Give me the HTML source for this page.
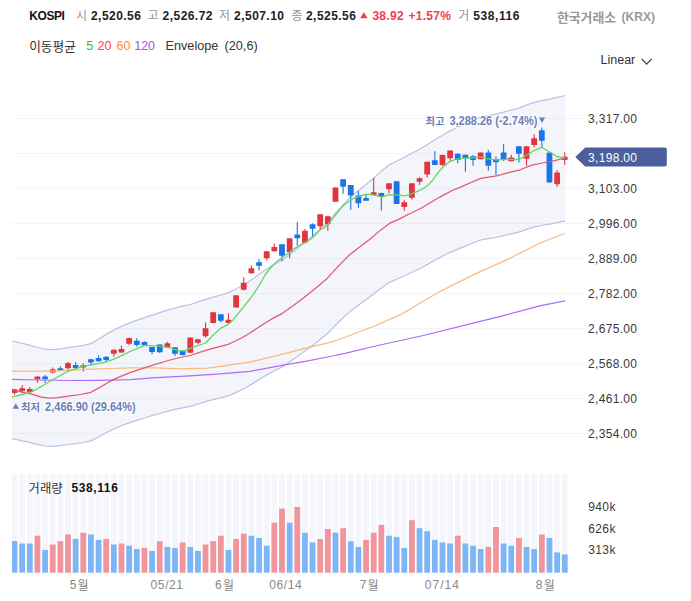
<!DOCTYPE html>
<html lang="ko"><head><meta charset="utf-8"><title>KOSPI</title>
<style>
html,body{margin:0;padding:0;background:#fff;}
body{width:691px;height:601px;position:relative;overflow:hidden;font-family:"Liberation Sans",sans-serif;}
span{position:absolute;white-space:nowrap;display:block;}
svg text{font-family:"Liberation Sans","Noto Sans CJK KR",sans-serif;}
</style></head><body>
<svg width="691" height="601" viewBox="0 0 691 601" style="position:absolute;left:0;top:0">
<defs><clipPath id="cp"><rect x="12" y="90" width="556" height="370"/></clipPath></defs>
<line x1="12" x2="584" y1="118.5" y2="118.5" stroke="#f3f4f8" stroke-width="1"/>
<line x1="12" x2="584" y1="153.5" y2="153.5" stroke="#f3f4f8" stroke-width="1"/>
<line x1="12" x2="584" y1="188.5" y2="188.5" stroke="#f3f4f8" stroke-width="1"/>
<line x1="12" x2="584" y1="223.5" y2="223.5" stroke="#f3f4f8" stroke-width="1"/>
<line x1="12" x2="584" y1="258.5" y2="258.5" stroke="#f3f4f8" stroke-width="1"/>
<line x1="12" x2="584" y1="293.5" y2="293.5" stroke="#f3f4f8" stroke-width="1"/>
<line x1="12" x2="584" y1="328.5" y2="328.5" stroke="#f3f4f8" stroke-width="1"/>
<line x1="12" x2="584" y1="363.5" y2="363.5" stroke="#f3f4f8" stroke-width="1"/>
<line x1="12" x2="584" y1="398.5" y2="398.5" stroke="#f3f4f8" stroke-width="1"/>
<line x1="12" x2="584" y1="433.5" y2="433.5" stroke="#f3f4f8" stroke-width="1"/>
<polygon points="12.0,340.9 14.5,341.5 22.1,343.4 29.8,345.1 37.4,347.5 45.1,349.2 52.7,349.6 60.4,348.8 68.0,347.6 75.6,346.6 83.3,345.3 90.9,343.6 98.6,339.2 106.2,334.4 113.8,330.1 121.5,326.4 129.1,323.1 136.8,320.4 144.4,317.7 152.1,315.2 159.7,312.6 167.3,310.2 175.0,308.0 182.6,306.2 190.3,304.5 197.9,301.9 205.6,299.3 213.2,297.1 220.8,295.0 228.5,292.6 236.1,288.8 243.8,284.8 251.4,279.9 259.1,274.3 266.7,269.1 274.3,264.4 282.0,260.3 289.6,254.4 297.3,248.4 304.9,242.3 312.6,236.0 320.2,229.2 327.8,222.2 335.5,213.1 343.1,204.8 350.8,196.9 358.4,190.6 366.1,184.5 373.7,178.0 381.3,171.1 389.0,165.0 396.6,161.2 404.3,157.3 411.9,153.3 419.6,149.3 427.2,144.8 434.8,139.8 442.5,135.2 450.1,130.9 457.8,127.3 465.4,123.9 473.0,120.4 480.7,116.9 488.3,115.6 496.0,114.2 503.6,112.1 511.3,110.1 518.9,108.1 526.5,105.0 534.2,102.3 541.8,100.6 549.5,99.1 557.1,97.4 565.0,95.5 565.0,220.9 557.1,222.6 549.5,224.1 541.8,225.5 534.2,226.9 526.5,229.4 518.9,232.1 511.3,233.8 503.6,235.7 496.0,237.5 488.3,238.7 480.7,240.0 473.0,243.0 465.4,246.1 457.8,249.2 450.1,252.3 442.5,256.1 434.8,260.3 427.2,264.6 419.6,268.7 411.9,272.2 404.3,275.7 396.6,279.2 389.0,282.6 381.3,287.9 373.7,294.1 366.1,299.8 358.4,305.3 350.8,310.9 343.1,317.8 335.5,325.2 327.8,333.3 320.2,339.5 312.6,345.5 304.9,351.1 297.3,356.6 289.6,361.9 282.0,367.1 274.3,370.7 266.7,374.9 259.1,379.5 251.4,384.4 243.8,388.8 236.1,392.4 228.5,395.7 220.8,397.8 213.2,399.7 205.6,401.7 197.9,404.0 190.3,406.3 182.6,407.8 175.0,409.4 167.3,411.4 159.7,413.5 152.1,415.7 144.4,418.0 136.8,420.4 129.1,422.8 121.5,425.7 113.8,429.0 106.2,432.8 98.6,437.0 90.9,440.9 83.3,442.5 75.6,443.6 68.0,444.5 60.4,445.6 52.7,446.3 45.1,446.0 37.4,444.4 29.8,442.3 22.1,440.8 14.5,439.1 12.0,438.5" fill="#cdd5ea" fill-opacity="0.24"/>
<polyline points="12.0,340.9 14.5,341.5 22.1,343.4 29.8,345.1 37.4,347.5 45.1,349.2 52.7,349.6 60.4,348.8 68.0,347.6 75.6,346.6 83.3,345.3 90.9,343.6 98.6,339.2 106.2,334.4 113.8,330.1 121.5,326.4 129.1,323.1 136.8,320.4 144.4,317.7 152.1,315.2 159.7,312.6 167.3,310.2 175.0,308.0 182.6,306.2 190.3,304.5 197.9,301.9 205.6,299.3 213.2,297.1 220.8,295.0 228.5,292.6 236.1,288.8 243.8,284.8 251.4,279.9 259.1,274.3 266.7,269.1 274.3,264.4 282.0,260.3 289.6,254.4 297.3,248.4 304.9,242.3 312.6,236.0 320.2,229.2 327.8,222.2 335.5,213.1 343.1,204.8 350.8,196.9 358.4,190.6 366.1,184.5 373.7,178.0 381.3,171.1 389.0,165.0 396.6,161.2 404.3,157.3 411.9,153.3 419.6,149.3 427.2,144.8 434.8,139.8 442.5,135.2 450.1,130.9 457.8,127.3 465.4,123.9 473.0,120.4 480.7,116.9 488.3,115.6 496.0,114.2 503.6,112.1 511.3,110.1 518.9,108.1 526.5,105.0 534.2,102.3 541.8,100.6 549.5,99.1 557.1,97.4 565.0,95.5" fill="none" stroke="#bcc1e7" stroke-width="1.25" stroke-linejoin="round"/>
<polyline points="12.0,438.5 14.5,439.1 22.1,440.8 29.8,442.3 37.4,444.4 45.1,446.0 52.7,446.3 60.4,445.6 68.0,444.5 75.6,443.6 83.3,442.5 90.9,440.9 98.6,437.0 106.2,432.8 113.8,429.0 121.5,425.7 129.1,422.8 136.8,420.4 144.4,418.0 152.1,415.7 159.7,413.5 167.3,411.4 175.0,409.4 182.6,407.8 190.3,406.3 197.9,404.0 205.6,401.7 213.2,399.7 220.8,397.8 228.5,395.7 236.1,392.4 243.8,388.8 251.4,384.4 259.1,379.5 266.7,374.9 274.3,370.7 282.0,367.1 289.6,361.9 297.3,356.6 304.9,351.1 312.6,345.5 320.2,339.5 327.8,333.3 335.5,325.2 343.1,317.8 350.8,310.9 358.4,305.3 366.1,299.8 373.7,294.1 381.3,287.9 389.0,282.6 396.6,279.2 404.3,275.7 411.9,272.2 419.6,268.7 427.2,264.6 434.8,260.3 442.5,256.1 450.1,252.3 457.8,249.2 465.4,246.1 473.0,243.0 480.7,240.0 488.3,238.7 496.0,237.5 503.6,235.7 511.3,233.8 518.9,232.1 526.5,229.4 534.2,226.9 541.8,225.5 549.5,224.1 557.1,222.6 565.0,220.9" fill="none" stroke="#bcc1e7" stroke-width="1.25" stroke-linejoin="round"/>
<g clip-path="url(#cp)">
<rect x="13.95" y="389.2" width="1.1" height="5.6" fill="#e2353f"/>
<rect x="11.60" y="389.2" width="5.8" height="3.9" rx="0.4" fill="#e2353f"/>
<rect x="21.59" y="385.2" width="1.1" height="7.3" fill="#e2353f"/>
<rect x="19.24" y="388.2" width="5.8" height="3.1" rx="0.4" fill="#e2353f"/>
<rect x="29.23" y="387.0" width="1.1" height="5.8" fill="#e2353f"/>
<rect x="26.88" y="389.0" width="5.8" height="3.0" rx="0.4" fill="#e2353f"/>
<rect x="36.88" y="376.5" width="1.1" height="6.3" fill="#e2353f"/>
<rect x="34.53" y="376.5" width="5.8" height="2.7" rx="0.4" fill="#e2353f"/>
<rect x="44.52" y="375.0" width="1.1" height="7.8" fill="#1b74e8"/>
<rect x="42.17" y="376.5" width="5.8" height="2.5" rx="0.4" fill="#1b74e8"/>
<rect x="52.16" y="367.5" width="1.1" height="5.8" fill="#e2353f"/>
<rect x="49.81" y="369.2" width="5.8" height="3.3" rx="0.4" fill="#e2353f"/>
<rect x="59.80" y="366.2" width="1.1" height="5.1" fill="#1b74e8"/>
<rect x="57.45" y="368.3" width="5.8" height="2.5" rx="0.4" fill="#1b74e8"/>
<rect x="67.45" y="362.0" width="1.1" height="8.8" fill="#e2353f"/>
<rect x="65.10" y="363.0" width="5.8" height="5.3" rx="0.4" fill="#e2353f"/>
<rect x="75.09" y="362.0" width="1.1" height="7.7" fill="#1b74e8"/>
<rect x="72.74" y="365.0" width="5.8" height="3.0" rx="0.4" fill="#1b74e8"/>
<rect x="82.73" y="363.3" width="1.1" height="8.4" fill="#e2353f"/>
<rect x="80.38" y="365.3" width="5.8" height="2.2" rx="0.4" fill="#e2353f"/>
<rect x="90.37" y="358.7" width="1.1" height="6.6" fill="#1b74e8"/>
<rect x="88.02" y="359.2" width="5.8" height="3.3" rx="0.4" fill="#1b74e8"/>
<rect x="98.02" y="355.3" width="1.1" height="6.4" fill="#1b74e8"/>
<rect x="95.67" y="358.0" width="5.8" height="3.3" rx="0.4" fill="#1b74e8"/>
<rect x="105.66" y="356.3" width="1.1" height="5.4" fill="#1b74e8"/>
<rect x="103.31" y="356.7" width="5.8" height="3.3" rx="0.4" fill="#1b74e8"/>
<rect x="113.30" y="349.2" width="1.1" height="7.5" fill="#e2353f"/>
<rect x="110.95" y="349.7" width="5.8" height="4.0" rx="0.4" fill="#e2353f"/>
<rect x="120.94" y="345.5" width="1.1" height="7.3" fill="#e2353f"/>
<rect x="118.59" y="349.0" width="5.8" height="3.5" rx="0.4" fill="#e2353f"/>
<rect x="128.59" y="337.5" width="1.1" height="7.8" fill="#e2353f"/>
<rect x="126.24" y="338.0" width="5.8" height="5.8" rx="0.4" fill="#e2353f"/>
<rect x="136.23" y="338.3" width="1.1" height="8.4" fill="#1b74e8"/>
<rect x="133.88" y="340.8" width="5.8" height="4.2" rx="0.4" fill="#1b74e8"/>
<rect x="143.87" y="341.3" width="1.1" height="4.5" fill="#1b74e8"/>
<rect x="141.52" y="342.0" width="5.8" height="3.3" rx="0.4" fill="#1b74e8"/>
<rect x="151.51" y="346.7" width="1.1" height="7.5" fill="#1b74e8"/>
<rect x="149.16" y="347.0" width="5.8" height="5.0" rx="0.4" fill="#1b74e8"/>
<rect x="159.16" y="344.5" width="1.1" height="8.3" fill="#1b74e8"/>
<rect x="156.81" y="344.5" width="5.8" height="7.7" rx="0.4" fill="#1b74e8"/>
<rect x="166.80" y="341.7" width="1.1" height="5.8" fill="#e2353f"/>
<rect x="164.45" y="343.3" width="5.8" height="3.7" rx="0.4" fill="#e2353f"/>
<rect x="174.44" y="347.2" width="1.1" height="8.6" fill="#1b74e8"/>
<rect x="172.09" y="347.2" width="5.8" height="6.6" rx="0.4" fill="#1b74e8"/>
<rect x="182.08" y="350.3" width="1.1" height="5.2" fill="#1b74e8"/>
<rect x="179.73" y="350.8" width="5.8" height="4.2" rx="0.4" fill="#1b74e8"/>
<rect x="189.73" y="337.5" width="1.1" height="15.3" fill="#e2353f"/>
<rect x="187.38" y="337.5" width="5.8" height="15.3" rx="0.4" fill="#e2353f"/>
<rect x="197.37" y="338.7" width="1.1" height="5.5" fill="#e2353f"/>
<rect x="195.02" y="339.2" width="5.8" height="3.6" rx="0.4" fill="#e2353f"/>
<rect x="205.01" y="322.5" width="1.1" height="15.0" fill="#e2353f"/>
<rect x="202.66" y="328.3" width="5.8" height="7.9" rx="0.4" fill="#e2353f"/>
<rect x="212.65" y="312.2" width="1.1" height="11.1" fill="#e2353f"/>
<rect x="210.30" y="312.2" width="5.8" height="10.8" rx="0.4" fill="#e2353f"/>
<rect x="220.29" y="314.2" width="1.1" height="8.3" fill="#1b74e8"/>
<rect x="217.94" y="314.2" width="5.8" height="6.6" rx="0.4" fill="#1b74e8"/>
<rect x="227.94" y="313.3" width="1.1" height="10.4" fill="#e2353f"/>
<rect x="225.59" y="319.7" width="5.8" height="3.3" rx="0.4" fill="#e2353f"/>
<rect x="235.58" y="295.3" width="1.1" height="12.2" fill="#e2353f"/>
<rect x="233.23" y="295.3" width="5.8" height="12.2" rx="0.4" fill="#e2353f"/>
<rect x="243.22" y="277.2" width="1.1" height="13.1" fill="#e2353f"/>
<rect x="240.87" y="282.8" width="5.8" height="6.9" rx="0.4" fill="#e2353f"/>
<rect x="250.86" y="265.3" width="1.1" height="8.4" fill="#e2353f"/>
<rect x="248.51" y="268.3" width="5.8" height="5.0" rx="0.4" fill="#e2353f"/>
<rect x="258.51" y="259.2" width="1.1" height="11.3" fill="#1b74e8"/>
<rect x="256.16" y="262.2" width="5.8" height="3.6" rx="0.4" fill="#1b74e8"/>
<rect x="266.15" y="251.3" width="1.1" height="9.2" fill="#e2353f"/>
<rect x="263.80" y="251.3" width="5.8" height="7.0" rx="0.4" fill="#e2353f"/>
<rect x="273.79" y="243.3" width="1.1" height="8.4" fill="#e2353f"/>
<rect x="271.44" y="247.0" width="5.8" height="4.2" rx="0.4" fill="#e2353f"/>
<rect x="281.43" y="244.2" width="1.1" height="17.1" fill="#1b74e8"/>
<rect x="279.08" y="244.2" width="5.8" height="11.6" rx="0.4" fill="#1b74e8"/>
<rect x="289.08" y="238.3" width="1.1" height="20.0" fill="#e2353f"/>
<rect x="286.73" y="238.3" width="5.8" height="13.7" rx="0.4" fill="#e2353f"/>
<rect x="296.72" y="222.0" width="1.1" height="23.5" fill="#1b74e8"/>
<rect x="294.37" y="234.5" width="5.8" height="3.8" rx="0.4" fill="#1b74e8"/>
<rect x="304.36" y="229.2" width="1.1" height="13.6" fill="#e2353f"/>
<rect x="302.01" y="230.8" width="5.8" height="11.9" rx="0.4" fill="#e2353f"/>
<rect x="312.00" y="223.3" width="1.1" height="13.2" fill="#1b74e8"/>
<rect x="309.65" y="224.2" width="5.8" height="4.5" rx="0.4" fill="#1b74e8"/>
<rect x="319.65" y="214.2" width="1.1" height="15.0" fill="#e2353f"/>
<rect x="317.30" y="214.2" width="5.8" height="12.0" rx="0.4" fill="#e2353f"/>
<rect x="327.29" y="215.8" width="1.1" height="15.0" fill="#e2353f"/>
<rect x="324.94" y="216.3" width="5.8" height="7.9" rx="0.4" fill="#e2353f"/>
<rect x="334.93" y="187.5" width="1.1" height="14.2" fill="#e2353f"/>
<rect x="332.58" y="187.5" width="5.8" height="14.2" rx="0.4" fill="#e2353f"/>
<rect x="342.57" y="179.2" width="1.1" height="14.6" fill="#1b74e8"/>
<rect x="340.22" y="179.2" width="5.8" height="7.5" rx="0.4" fill="#1b74e8"/>
<rect x="350.22" y="185.0" width="1.1" height="24.7" fill="#1b74e8"/>
<rect x="347.87" y="185.0" width="5.8" height="10.5" rx="0.4" fill="#1b74e8"/>
<rect x="357.86" y="190.8" width="1.1" height="17.0" fill="#1b74e8"/>
<rect x="355.51" y="195.5" width="5.8" height="7.8" rx="0.4" fill="#1b74e8"/>
<rect x="365.50" y="194.2" width="1.1" height="6.6" fill="#1b74e8"/>
<rect x="363.15" y="198.0" width="5.8" height="2.8" rx="0.4" fill="#1b74e8"/>
<rect x="373.14" y="178.0" width="1.1" height="17.3" fill="#e2353f"/>
<rect x="370.79" y="192.2" width="5.8" height="3.1" rx="0.4" fill="#e2353f"/>
<rect x="380.79" y="192.5" width="1.1" height="18.0" fill="#1b74e8"/>
<rect x="378.44" y="193.0" width="5.8" height="3.2" rx="0.4" fill="#1b74e8"/>
<rect x="388.43" y="183.3" width="1.1" height="10.0" fill="#e2353f"/>
<rect x="386.08" y="183.3" width="5.8" height="5.9" rx="0.4" fill="#e2353f"/>
<rect x="396.07" y="181.2" width="1.1" height="22.8" fill="#1b74e8"/>
<rect x="393.72" y="181.2" width="5.8" height="22.8" rx="0.4" fill="#1b74e8"/>
<rect x="403.71" y="199.7" width="1.1" height="11.1" fill="#e2353f"/>
<rect x="401.36" y="202.2" width="5.8" height="4.8" rx="0.4" fill="#e2353f"/>
<rect x="411.35" y="183.3" width="1.1" height="16.4" fill="#e2353f"/>
<rect x="409.00" y="183.3" width="5.8" height="14.5" rx="0.4" fill="#e2353f"/>
<rect x="419.00" y="177.2" width="1.1" height="7.8" fill="#e2353f"/>
<rect x="416.65" y="178.3" width="5.8" height="3.4" rx="0.4" fill="#e2353f"/>
<rect x="426.64" y="161.7" width="1.1" height="15.8" fill="#e2353f"/>
<rect x="424.29" y="161.7" width="5.8" height="12.8" rx="0.4" fill="#e2353f"/>
<rect x="434.28" y="151.2" width="1.1" height="13.8" fill="#1b74e8"/>
<rect x="431.93" y="160.3" width="5.8" height="4.7" rx="0.4" fill="#1b74e8"/>
<rect x="441.92" y="154.5" width="1.1" height="11.3" fill="#e2353f"/>
<rect x="439.57" y="155.0" width="5.8" height="10.0" rx="0.4" fill="#e2353f"/>
<rect x="449.57" y="150.5" width="1.1" height="10.3" fill="#e2353f"/>
<rect x="447.22" y="150.5" width="5.8" height="7.8" rx="0.4" fill="#e2353f"/>
<rect x="457.21" y="153.3" width="1.1" height="10.0" fill="#1b74e8"/>
<rect x="454.86" y="153.8" width="5.8" height="6.2" rx="0.4" fill="#1b74e8"/>
<rect x="464.85" y="154.7" width="1.1" height="17.0" fill="#1b74e8"/>
<rect x="462.50" y="154.7" width="5.8" height="3.6" rx="0.4" fill="#1b74e8"/>
<rect x="472.49" y="155.0" width="1.1" height="10.8" fill="#1b74e8"/>
<rect x="470.14" y="156.2" width="5.8" height="3.8" rx="0.4" fill="#1b74e8"/>
<rect x="480.14" y="152.5" width="1.1" height="6.8" fill="#e2353f"/>
<rect x="477.79" y="152.5" width="5.8" height="6.8" rx="0.4" fill="#e2353f"/>
<rect x="487.78" y="149.8" width="1.1" height="20.8" fill="#1b74e8"/>
<rect x="485.43" y="152.4" width="5.8" height="13.4" rx="0.4" fill="#1b74e8"/>
<rect x="495.42" y="156.3" width="1.1" height="18.7" fill="#1b74e8"/>
<rect x="493.07" y="159.3" width="5.8" height="2.9" rx="0.4" fill="#1b74e8"/>
<rect x="503.06" y="144.2" width="1.1" height="16.8" fill="#1b74e8"/>
<rect x="500.71" y="152.5" width="5.8" height="6.7" rx="0.4" fill="#1b74e8"/>
<rect x="510.71" y="154.7" width="1.1" height="6.6" fill="#e2353f"/>
<rect x="508.36" y="157.5" width="5.8" height="3.8" rx="0.4" fill="#e2353f"/>
<rect x="518.35" y="146.3" width="1.1" height="16.2" fill="#1b74e8"/>
<rect x="516.00" y="146.3" width="5.8" height="7.4" rx="0.4" fill="#1b74e8"/>
<rect x="525.99" y="146.3" width="1.1" height="19.5" fill="#e2353f"/>
<rect x="523.64" y="146.3" width="5.8" height="12.5" rx="0.4" fill="#e2353f"/>
<rect x="533.63" y="134.2" width="1.1" height="13.3" fill="#e2353f"/>
<rect x="531.28" y="138.3" width="5.8" height="6.7" rx="0.4" fill="#e2353f"/>
<rect x="541.28" y="127.5" width="1.1" height="20.0" fill="#1b74e8"/>
<rect x="538.93" y="130.3" width="5.8" height="10.5" rx="0.4" fill="#1b74e8"/>
<rect x="548.92" y="152.5" width="1.1" height="30.0" fill="#1b74e8"/>
<rect x="546.57" y="152.5" width="5.8" height="30.0" rx="0.4" fill="#1b74e8"/>
<rect x="556.56" y="170.3" width="1.1" height="16.7" fill="#e2353f"/>
<rect x="554.21" y="172.5" width="5.8" height="11.7" rx="0.4" fill="#e2353f"/>
<rect x="564.20" y="152.2" width="1.1" height="12.8" fill="#e2353f"/>
<rect x="561.85" y="156.7" width="5.8" height="3.3" rx="0.4" fill="#e2353f"/>
</g>
<polyline points="12.0,379.3 40.0,380.0 70.0,380.5 100.0,380.4 130.0,379.7 156.0,377.7 190.0,375.8 219.9,373.9 250.0,371.3 284.7,364.9 307.9,360.9 330.0,356.5 345.0,353.3 373.3,346.5 423.2,335.5 473.2,323.2 506.5,314.9 539.7,305.9 565.0,300.9" fill="none" stroke="#ad6cf4" stroke-width="1.2" stroke-linejoin="round"/>
<polyline points="12.0,371.1 45.0,371.2 70.0,370.4 85.0,369.4 110.0,368.5 130.0,367.8 156.0,367.8 182.0,368.8 190.0,368.7 207.4,368.2 229.0,365.1 250.0,362.2 278.9,355.1 307.9,347.6 330.0,342.4 340.0,339.2 350.0,335.3 373.3,326.5 399.9,314.9 439.9,291.5 473.2,274.9 506.5,259.9 539.7,243.3 565.0,233.3" fill="none" stroke="#fab97a" stroke-width="1.2" stroke-linejoin="round"/>
<polyline points="12.0,389.7 23.0,392.3 31.7,394.1 40.4,396.9 49.1,398.2 57.7,397.6 70.0,395.8 80.4,394.5 90.8,392.3 100.4,387.1 109.1,381.9 117.7,377.6 130.0,372.6 147.4,366.9 164.7,361.5 177.7,358.0 190.0,355.5 207.4,349.9 227.3,344.7 242.1,337.8 250.0,333.1 261.3,325.4 271.7,318.9 282.1,313.6 293.4,305.4 302.1,298.9 310.0,292.8 313.5,290.0 327.4,278.2 336.0,268.6 349.1,255.2 358.6,247.8 370.2,239.0 380.8,229.9 389.5,223.4 399.1,219.1 408.6,214.3 420.0,208.8 422.4,207.6 439.7,197.1 452.7,190.2 460.0,187.4 470.4,182.8 480.8,178.4 496.5,175.8 507.7,172.8 520.2,169.8 531.7,165.1 544.7,162.5 553.4,160.8 565.0,158.2" fill="none" stroke="#e3566c" stroke-width="1.2" stroke-linejoin="round"/>
<polyline points="12.0,397.1 22.0,394.5 31.7,391.9 44.7,384.5 53.4,379.3 62.1,374.5 69.5,370.6 83.0,366.3 95.0,364.2 104.7,362.4 113.4,359.3 122.0,355.4 130.0,351.5 144.8,345.4 156.0,345.9 169.0,347.6 178.6,350.6 183.8,351.1 190.0,348.3 205.6,343.0 213.4,334.8 221.3,327.8 228.2,324.3 232.7,320.3 241.3,309.6 251.5,297.0 258.6,286.3 265.7,274.0 271.7,266.5 275.1,263.1 282.2,257.6 290.3,251.5 298.4,245.9 305.5,242.4 312.6,237.8 319.7,230.2 325.5,226.8 330.0,222.1 335.0,215.6 340.2,209.0 345.3,203.9 350.3,200.2 355.4,197.6 360.5,195.8 365.5,194.3 370.6,194.3 375.7,195.3 381.7,197.2 387.8,195.0 395.0,194.8 398.3,194.9 405.0,195.8 413.7,193.2 420.0,190.2 427.1,186.1 433.2,179.5 438.2,172.4 443.3,166.8 449.4,161.8 455.5,159.3 462.6,158.2 470.7,158.2 476.7,157.2 481.8,157.2 486.9,158.7 496.5,159.9 508.6,159.3 518.7,159.5 527.4,154.7 534.3,150.4 541.7,147.3 549.1,151.7 556.9,156.5 565.0,158.2" fill="none" stroke="#62d662" stroke-width="1.3" stroke-linejoin="round"/>
<rect x="12.00" y="474" width="5.40" height="98.7" fill="#f5f6fb"/>
<rect x="12.00" y="541.0" width="5.40" height="31.7" fill="#7db5f6"/>
<rect x="19.24" y="474" width="5.80" height="98.7" fill="#f5f6fb"/>
<rect x="19.24" y="543.5" width="5.80" height="29.2" fill="#7db5f6"/>
<rect x="26.88" y="474" width="5.80" height="98.7" fill="#f5f6fb"/>
<rect x="26.88" y="543.5" width="5.80" height="29.2" fill="#7db5f6"/>
<rect x="34.53" y="474" width="5.80" height="98.7" fill="#f5f6fb"/>
<rect x="34.53" y="535.7" width="5.80" height="37.0" fill="#f0959c"/>
<rect x="42.17" y="474" width="5.80" height="98.7" fill="#f5f6fb"/>
<rect x="42.17" y="549.9" width="5.80" height="22.8" fill="#7db5f6"/>
<rect x="49.81" y="474" width="5.80" height="98.7" fill="#f5f6fb"/>
<rect x="49.81" y="544.5" width="5.80" height="28.2" fill="#f0959c"/>
<rect x="57.45" y="474" width="5.80" height="98.7" fill="#f5f6fb"/>
<rect x="57.45" y="541.2" width="5.80" height="31.5" fill="#f0959c"/>
<rect x="65.10" y="474" width="5.80" height="98.7" fill="#f5f6fb"/>
<rect x="65.10" y="534.5" width="5.80" height="38.2" fill="#f0959c"/>
<rect x="72.74" y="474" width="5.80" height="98.7" fill="#f5f6fb"/>
<rect x="72.74" y="538.9" width="5.80" height="33.8" fill="#7db5f6"/>
<rect x="80.38" y="474" width="5.80" height="98.7" fill="#f5f6fb"/>
<rect x="80.38" y="532.7" width="5.80" height="40.0" fill="#f0959c"/>
<rect x="88.02" y="474" width="5.80" height="98.7" fill="#f5f6fb"/>
<rect x="88.02" y="534.5" width="5.80" height="38.2" fill="#7db5f6"/>
<rect x="95.67" y="474" width="5.80" height="98.7" fill="#f5f6fb"/>
<rect x="95.67" y="539.9" width="5.80" height="32.8" fill="#7db5f6"/>
<rect x="103.31" y="474" width="5.80" height="98.7" fill="#f5f6fb"/>
<rect x="103.31" y="538.9" width="5.80" height="33.8" fill="#f0959c"/>
<rect x="110.95" y="474" width="5.80" height="98.7" fill="#f5f6fb"/>
<rect x="110.95" y="544.5" width="5.80" height="28.2" fill="#7db5f6"/>
<rect x="118.59" y="474" width="5.80" height="98.7" fill="#f5f6fb"/>
<rect x="118.59" y="543.5" width="5.80" height="29.2" fill="#f0959c"/>
<rect x="126.24" y="474" width="5.80" height="98.7" fill="#f5f6fb"/>
<rect x="126.24" y="545.7" width="5.80" height="27.0" fill="#7db5f6"/>
<rect x="133.88" y="474" width="5.80" height="98.7" fill="#f5f6fb"/>
<rect x="133.88" y="549.0" width="5.80" height="23.7" fill="#7db5f6"/>
<rect x="141.52" y="474" width="5.80" height="98.7" fill="#f5f6fb"/>
<rect x="141.52" y="547.9" width="5.80" height="24.8" fill="#f0959c"/>
<rect x="149.16" y="474" width="5.80" height="98.7" fill="#f5f6fb"/>
<rect x="149.16" y="551.0" width="5.80" height="21.7" fill="#7db5f6"/>
<rect x="156.81" y="474" width="5.80" height="98.7" fill="#f5f6fb"/>
<rect x="156.81" y="541.2" width="5.80" height="31.5" fill="#f0959c"/>
<rect x="164.45" y="474" width="5.80" height="98.7" fill="#f5f6fb"/>
<rect x="164.45" y="546.9" width="5.80" height="25.8" fill="#7db5f6"/>
<rect x="172.09" y="474" width="5.80" height="98.7" fill="#f5f6fb"/>
<rect x="172.09" y="547.9" width="5.80" height="24.8" fill="#7db5f6"/>
<rect x="179.73" y="474" width="5.80" height="98.7" fill="#f5f6fb"/>
<rect x="179.73" y="542.4" width="5.80" height="30.3" fill="#f0959c"/>
<rect x="187.38" y="474" width="5.80" height="98.7" fill="#f5f6fb"/>
<rect x="187.38" y="546.9" width="5.80" height="25.8" fill="#7db5f6"/>
<rect x="195.02" y="474" width="5.80" height="98.7" fill="#f5f6fb"/>
<rect x="195.02" y="551.0" width="5.80" height="21.7" fill="#7db5f6"/>
<rect x="202.66" y="474" width="5.80" height="98.7" fill="#f5f6fb"/>
<rect x="202.66" y="544.5" width="5.80" height="28.2" fill="#f0959c"/>
<rect x="210.30" y="474" width="5.80" height="98.7" fill="#f5f6fb"/>
<rect x="210.30" y="541.2" width="5.80" height="31.5" fill="#f0959c"/>
<rect x="217.94" y="474" width="5.80" height="98.7" fill="#f5f6fb"/>
<rect x="217.94" y="535.7" width="5.80" height="37.0" fill="#f0959c"/>
<rect x="225.59" y="474" width="5.80" height="98.7" fill="#f5f6fb"/>
<rect x="225.59" y="549.9" width="5.80" height="22.8" fill="#7db5f6"/>
<rect x="233.23" y="474" width="5.80" height="98.7" fill="#f5f6fb"/>
<rect x="233.23" y="539.0" width="5.80" height="33.7" fill="#f0959c"/>
<rect x="240.87" y="474" width="5.80" height="98.7" fill="#f5f6fb"/>
<rect x="240.87" y="533.7" width="5.80" height="39.0" fill="#f0959c"/>
<rect x="248.51" y="474" width="5.80" height="98.7" fill="#f5f6fb"/>
<rect x="248.51" y="535.7" width="5.80" height="37.0" fill="#7db5f6"/>
<rect x="256.16" y="474" width="5.80" height="98.7" fill="#f5f6fb"/>
<rect x="256.16" y="537.9" width="5.80" height="34.8" fill="#7db5f6"/>
<rect x="263.80" y="474" width="5.80" height="98.7" fill="#f5f6fb"/>
<rect x="263.80" y="545.7" width="5.80" height="27.0" fill="#7db5f6"/>
<rect x="271.44" y="474" width="5.80" height="98.7" fill="#f5f6fb"/>
<rect x="271.44" y="522.7" width="5.80" height="50.0" fill="#f0959c"/>
<rect x="279.08" y="474" width="5.80" height="98.7" fill="#f5f6fb"/>
<rect x="279.08" y="508.5" width="5.80" height="64.2" fill="#f0959c"/>
<rect x="286.73" y="474" width="5.80" height="98.7" fill="#f5f6fb"/>
<rect x="286.73" y="522.7" width="5.80" height="50.0" fill="#7db5f6"/>
<rect x="294.37" y="474" width="5.80" height="98.7" fill="#f5f6fb"/>
<rect x="294.37" y="507.0" width="5.80" height="65.7" fill="#f0959c"/>
<rect x="302.01" y="474" width="5.80" height="98.7" fill="#f5f6fb"/>
<rect x="302.01" y="532.7" width="5.80" height="40.0" fill="#7db5f6"/>
<rect x="309.65" y="474" width="5.80" height="98.7" fill="#f5f6fb"/>
<rect x="309.65" y="542.4" width="5.80" height="30.3" fill="#7db5f6"/>
<rect x="317.30" y="474" width="5.80" height="98.7" fill="#f5f6fb"/>
<rect x="317.30" y="539.0" width="5.80" height="33.7" fill="#f0959c"/>
<rect x="324.94" y="474" width="5.80" height="98.7" fill="#f5f6fb"/>
<rect x="324.94" y="529.0" width="5.80" height="43.7" fill="#f0959c"/>
<rect x="332.58" y="474" width="5.80" height="98.7" fill="#f5f6fb"/>
<rect x="332.58" y="532.7" width="5.80" height="40.0" fill="#7db5f6"/>
<rect x="340.22" y="474" width="5.80" height="98.7" fill="#f5f6fb"/>
<rect x="340.22" y="528.2" width="5.80" height="44.5" fill="#f0959c"/>
<rect x="347.87" y="474" width="5.80" height="98.7" fill="#f5f6fb"/>
<rect x="347.87" y="541.2" width="5.80" height="31.5" fill="#7db5f6"/>
<rect x="355.51" y="474" width="5.80" height="98.7" fill="#f5f6fb"/>
<rect x="355.51" y="546.9" width="5.80" height="25.8" fill="#7db5f6"/>
<rect x="363.15" y="474" width="5.80" height="98.7" fill="#f5f6fb"/>
<rect x="363.15" y="539.9" width="5.80" height="32.8" fill="#f0959c"/>
<rect x="370.79" y="474" width="5.80" height="98.7" fill="#f5f6fb"/>
<rect x="370.79" y="532.7" width="5.80" height="40.0" fill="#f0959c"/>
<rect x="378.44" y="474" width="5.80" height="98.7" fill="#f5f6fb"/>
<rect x="378.44" y="524.9" width="5.80" height="47.8" fill="#f0959c"/>
<rect x="386.08" y="474" width="5.80" height="98.7" fill="#f5f6fb"/>
<rect x="386.08" y="535.7" width="5.80" height="37.0" fill="#7db5f6"/>
<rect x="393.72" y="474" width="5.80" height="98.7" fill="#f5f6fb"/>
<rect x="393.72" y="536.9" width="5.80" height="35.8" fill="#7db5f6"/>
<rect x="401.36" y="474" width="5.80" height="98.7" fill="#f5f6fb"/>
<rect x="401.36" y="547.9" width="5.80" height="24.8" fill="#7db5f6"/>
<rect x="409.00" y="474" width="5.80" height="98.7" fill="#f5f6fb"/>
<rect x="409.00" y="520.2" width="5.80" height="52.5" fill="#f0959c"/>
<rect x="416.65" y="474" width="5.80" height="98.7" fill="#f5f6fb"/>
<rect x="416.65" y="528.2" width="5.80" height="44.5" fill="#7db5f6"/>
<rect x="424.29" y="474" width="5.80" height="98.7" fill="#f5f6fb"/>
<rect x="424.29" y="531.2" width="5.80" height="41.5" fill="#7db5f6"/>
<rect x="431.93" y="474" width="5.80" height="98.7" fill="#f5f6fb"/>
<rect x="431.93" y="539.9" width="5.80" height="32.8" fill="#7db5f6"/>
<rect x="439.57" y="474" width="5.80" height="98.7" fill="#f5f6fb"/>
<rect x="439.57" y="542.4" width="5.80" height="30.3" fill="#7db5f6"/>
<rect x="447.22" y="474" width="5.80" height="98.7" fill="#f5f6fb"/>
<rect x="447.22" y="543.5" width="5.80" height="29.2" fill="#7db5f6"/>
<rect x="454.86" y="474" width="5.80" height="98.7" fill="#f5f6fb"/>
<rect x="454.86" y="535.7" width="5.80" height="37.0" fill="#f0959c"/>
<rect x="462.50" y="474" width="5.80" height="98.7" fill="#f5f6fb"/>
<rect x="462.50" y="543.5" width="5.80" height="29.2" fill="#7db5f6"/>
<rect x="470.14" y="474" width="5.80" height="98.7" fill="#f5f6fb"/>
<rect x="470.14" y="545.7" width="5.80" height="27.0" fill="#7db5f6"/>
<rect x="477.79" y="474" width="5.80" height="98.7" fill="#f5f6fb"/>
<rect x="477.79" y="549.0" width="5.80" height="23.7" fill="#7db5f6"/>
<rect x="485.43" y="474" width="5.80" height="98.7" fill="#f5f6fb"/>
<rect x="485.43" y="546.9" width="5.80" height="25.8" fill="#f0959c"/>
<rect x="493.07" y="474" width="5.80" height="98.7" fill="#f5f6fb"/>
<rect x="493.07" y="527.0" width="5.80" height="45.7" fill="#f0959c"/>
<rect x="500.71" y="474" width="5.80" height="98.7" fill="#f5f6fb"/>
<rect x="500.71" y="543.5" width="5.80" height="29.2" fill="#7db5f6"/>
<rect x="508.36" y="474" width="5.80" height="98.7" fill="#f5f6fb"/>
<rect x="508.36" y="545.7" width="5.80" height="27.0" fill="#7db5f6"/>
<rect x="516.00" y="474" width="5.80" height="98.7" fill="#f5f6fb"/>
<rect x="516.00" y="537.9" width="5.80" height="34.8" fill="#f0959c"/>
<rect x="523.64" y="474" width="5.80" height="98.7" fill="#f5f6fb"/>
<rect x="523.64" y="546.9" width="5.80" height="25.8" fill="#7db5f6"/>
<rect x="531.28" y="474" width="5.80" height="98.7" fill="#f5f6fb"/>
<rect x="531.28" y="549.0" width="5.80" height="23.7" fill="#7db5f6"/>
<rect x="538.93" y="474" width="5.80" height="98.7" fill="#f5f6fb"/>
<rect x="538.93" y="534.5" width="5.80" height="38.2" fill="#f0959c"/>
<rect x="546.57" y="474" width="5.80" height="98.7" fill="#f5f6fb"/>
<rect x="546.57" y="537.9" width="5.80" height="34.8" fill="#7db5f6"/>
<rect x="554.21" y="474" width="5.80" height="98.7" fill="#f5f6fb"/>
<rect x="554.21" y="552.4" width="5.80" height="20.3" fill="#7db5f6"/>
<rect x="561.85" y="474" width="5.80" height="98.7" fill="#f5f6fb"/>
<rect x="561.85" y="554.5" width="5.80" height="18.2" fill="#7db5f6"/>
<path d="M575.3,157 L585.2,147.4 H664.8 Q666.8,147.4 666.8,149.4 V164.6 Q666.8,166.6 664.8,166.6 H585.2 Z" fill="#4a5f9c"/>
<path d="M360.2,18.2 L367.6,18.2 L363.9,12.3 Z" fill="#f03e4f"/>
<path d="M641.8,59 L646.7,64.2 L651.6,59" fill="none" stroke="#444" stroke-width="1.2"/>
<path d="M538.9,117.4 L545.1,117.4 L542,123 Z" fill="#6b80b8"/>
<path d="M12.6,408.8 L19,408.8 L15.8,403.2 Z" fill="#6b80b8"/>
<text x="75.9" y="19.9" font-size="12" fill="#939393">시</text>
<text x="147.5" y="19.9" font-size="12" fill="#939393">고</text>
<text x="219.1" y="19.9" font-size="12" fill="#939393">저</text>
<text x="291.4" y="19.9" font-size="12" fill="#939393">종</text>
<text x="458.3" y="19.9" font-size="12" fill="#939393">거</text>
<text x="556.9" y="22.2" font-size="12.9" font-weight="700" fill="#999">한국거래소</text>
<text x="29.2" y="50.7" font-size="12.7" fill="#333">이동평균</text>
<text x="28.6" y="492.6" font-size="12.3" fill="#333">거래량</text>
<text x="77.6" y="590.3" font-size="12" fill="#888">월</text>
<text x="223" y="590.3" font-size="12" fill="#888">월</text>
<text x="367.6" y="590.3" font-size="12" fill="#888">월</text>
<text x="543.7" y="590.3" font-size="12" fill="#888">월</text>
<text x="425.6" y="124.9" font-size="10.3" font-weight="700" fill="#6b80b8" stroke="#fff" stroke-width="2.2" stroke-linejoin="round" paint-order="stroke" stroke-opacity="0.85">최고</text>
<text x="21.1" y="410.9" font-size="10.3" font-weight="700" fill="#6b80b8" stroke="#fff" stroke-width="2.2" stroke-linejoin="round" paint-order="stroke" stroke-opacity="0.85">최저</text>
</svg>
<span style="left:29.2px;top:10.4px;font-size:12px;line-height:12px;color:#111;font-weight:700;letter-spacing:-0.4px;">KOSPI</span>
<span style="left:91.0px;top:10.3px;font-size:12px;line-height:12px;color:#222;font-weight:700;letter-spacing:0.45px;">2,520.56</span>
<span style="left:162.6px;top:10.3px;font-size:12px;line-height:12px;color:#222;font-weight:700;letter-spacing:0.45px;">2,526.72</span>
<span style="left:234.1px;top:10.3px;font-size:12px;line-height:12px;color:#222;font-weight:700;letter-spacing:0.45px;">2,507.10</span>
<span style="left:306.0px;top:10.3px;font-size:12px;line-height:12px;color:#222;font-weight:700;letter-spacing:0.45px;">2,525.56</span>
<span style="left:372.4px;top:10.3px;font-size:12px;line-height:12px;color:#f03e4f;font-weight:700;letter-spacing:0.3px;">38.92</span>
<span style="left:408.4px;top:10.3px;font-size:12px;line-height:12px;color:#f03e4f;font-weight:700;letter-spacing:0.3px;">+1.57%</span>
<span style="left:473.2px;top:10.3px;font-size:12px;line-height:12px;color:#222;font-weight:700;letter-spacing:0.6px;">538,116</span>
<span style="left:621.6px;top:11.2px;font-size:12px;line-height:12px;color:#999;font-weight:700;letter-spacing:0px;">(KRX)</span>
<span style="left:86.2px;top:39.9px;font-size:12.5px;line-height:12.5px;color:#2fc22f;font-weight:400;letter-spacing:0px;">5</span>
<span style="left:97.6px;top:39.9px;font-size:12.5px;line-height:12.5px;color:#ff3d5e;font-weight:400;letter-spacing:0px;">20</span>
<span style="left:116.6px;top:39.9px;font-size:12.5px;line-height:12.5px;color:#ff8a2b;font-weight:400;letter-spacing:0px;">60</span>
<span style="left:134.2px;top:39.9px;font-size:12.5px;line-height:12.5px;color:#a254f0;font-weight:400;letter-spacing:0px;">120</span>
<span style="left:165.5px;top:39.7px;font-size:12.7px;line-height:12.7px;color:#333;font-weight:400;letter-spacing:0px;word-spacing:2.6px;">Envelope (20,6)</span>
<span style="left:600.5px;top:54.1px;font-size:12.5px;line-height:12.5px;color:#333;font-weight:400;letter-spacing:0px;">Linear</span>
<span style="left:588.0px;top:112.6px;font-size:12px;line-height:12px;color:#3a3a3a;font-weight:400;letter-spacing:0.33px;">3,317.00</span>
<span style="left:588.0px;top:182.6px;font-size:12px;line-height:12px;color:#3a3a3a;font-weight:400;letter-spacing:0.33px;">3,103.00</span>
<span style="left:588.0px;top:217.6px;font-size:12px;line-height:12px;color:#3a3a3a;font-weight:400;letter-spacing:0.33px;">2,996.00</span>
<span style="left:588.0px;top:252.6px;font-size:12px;line-height:12px;color:#3a3a3a;font-weight:400;letter-spacing:0.33px;">2,889.00</span>
<span style="left:588.0px;top:287.6px;font-size:12px;line-height:12px;color:#3a3a3a;font-weight:400;letter-spacing:0.33px;">2,782.00</span>
<span style="left:588.0px;top:322.6px;font-size:12px;line-height:12px;color:#3a3a3a;font-weight:400;letter-spacing:0.33px;">2,675.00</span>
<span style="left:588.0px;top:357.6px;font-size:12px;line-height:12px;color:#3a3a3a;font-weight:400;letter-spacing:0.33px;">2,568.00</span>
<span style="left:588.0px;top:392.6px;font-size:12px;line-height:12px;color:#3a3a3a;font-weight:400;letter-spacing:0.33px;">2,461.00</span>
<span style="left:588.0px;top:427.6px;font-size:12px;line-height:12px;color:#3a3a3a;font-weight:400;letter-spacing:0.33px;">2,354.00</span>
<span style="left:588.0px;top:151.5px;font-size:12px;line-height:12px;color:#fff;font-weight:400;letter-spacing:0.33px;">3,198.00</span>
<span style="left:588.2px;top:500.7px;font-size:12px;line-height:12px;color:#3a3a3a;font-weight:400;letter-spacing:0.4px;">940k</span>
<span style="left:588.2px;top:522.6px;font-size:12px;line-height:12px;color:#3a3a3a;font-weight:400;letter-spacing:0.4px;">626k</span>
<span style="left:588.2px;top:544.3px;font-size:12px;line-height:12px;color:#3a3a3a;font-weight:400;letter-spacing:0.4px;">313k</span>
<span style="left:71.4px;top:482.3px;font-size:12px;line-height:12px;color:#111;font-weight:700;letter-spacing:0.62px;">538,116</span>
<span style="left:69.8px;top:579.2px;font-size:12px;line-height:12px;color:#888;font-weight:400;letter-spacing:0px;">5</span>
<span style="left:150.6px;top:579.2px;font-size:12px;line-height:12px;color:#888;font-weight:400;letter-spacing:0.6px;">05/21</span>
<span style="left:215.0px;top:579.2px;font-size:12px;line-height:12px;color:#888;font-weight:400;letter-spacing:0px;">6</span>
<span style="left:269.2px;top:579.2px;font-size:12px;line-height:12px;color:#888;font-weight:400;letter-spacing:0.6px;">06/14</span>
<span style="left:359.7px;top:579.2px;font-size:12px;line-height:12px;color:#888;font-weight:400;letter-spacing:0px;">7</span>
<span style="left:424.8px;top:579.2px;font-size:12px;line-height:12px;color:#888;font-weight:400;letter-spacing:1.0px;">07/14</span>
<span style="left:535.8px;top:579.2px;font-size:12px;line-height:12px;color:#888;font-weight:400;letter-spacing:0px;">8</span>
<span style="left:449.4px;top:116.2px;font-size:11px;line-height:11px;color:#6b80b8;font-weight:700;letter-spacing:0px;color:#6b80b8;-webkit-text-stroke:2.2px rgba(255,255,255,0.85);paint-order:stroke fill;transform:scaleY(1.13);transform-origin:0 9.3px;">3,288.26 (-2.74%)</span>
<span style="left:45.1px;top:402.1px;font-size:11px;line-height:11px;color:#6b80b8;font-weight:700;letter-spacing:0px;color:#6b80b8;-webkit-text-stroke:2.2px rgba(255,255,255,0.85);paint-order:stroke fill;transform:scaleY(1.13);transform-origin:0 9.3px;">2,466.90 (29.64%)</span>
</body></html>
